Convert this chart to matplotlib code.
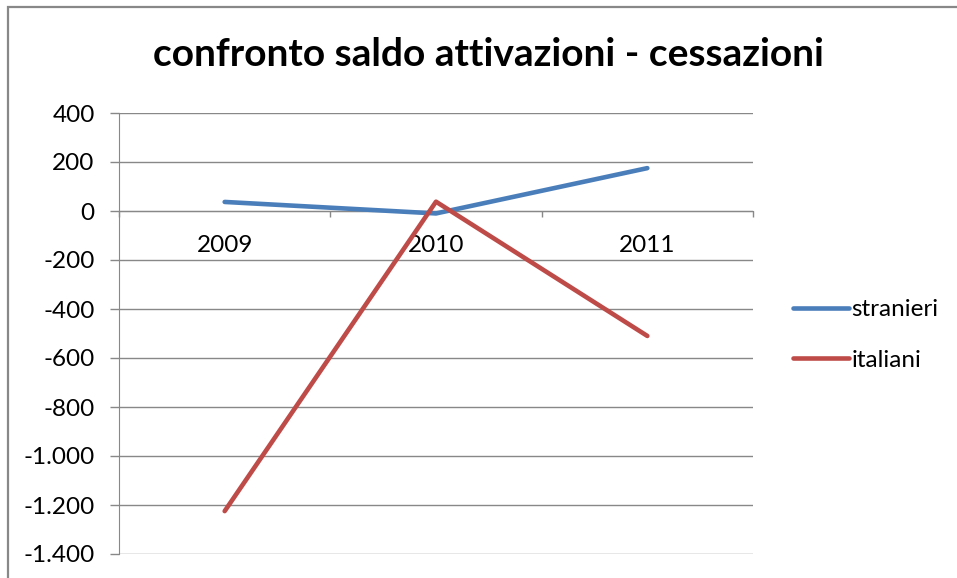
import matplotlib
matplotlib.use("Agg")
import matplotlib.pyplot as plt
from matplotlib.ticker import FuncFormatter, FixedLocator
from matplotlib.patches import Rectangle

years = ["2009", "2010", "2011"]
stranieri = [37, -10, 175]
italiani = [-1225, 38, -510]
yticks = [400, 200, 0, -200, -400, -600, -800, -1000, -1200, -1400]

plt.rcParams['font.family'] = ['Lato', 'DejaVu Sans']

W, H = 957, 578
fig = plt.figure(figsize=(W/100, H/100), dpi=100)
fig.patch.set_facecolor('white')

# outer chart frame
fig.patches.append(Rectangle((8/W, -0.05), 1.1, 1 - 7/H + 0.05, transform=fig.transFigure,
                             fill=False, edgecolor='#888888', linewidth=1.6))

ax = fig.add_axes([119/W, 1 - 554/H, (753-119)/W, (554-113)/H])
x = [i + 0.5 for i in range(len(years))]
ax.plot(x, stranieri, color='#4a7ebb', lw=3.3, solid_capstyle='round', label='stranieri', zorder=3)
ax.plot(x, italiani, color='#be4b48', lw=3.3, solid_capstyle='round', label='italiani', zorder=3)

ax.set_xlim(0, len(years))
ax.set_ylim(-1400, 400)
ax.set_yticks(yticks)
ax.yaxis.set_major_formatter(FuncFormatter(lambda v, p: f"{int(v):,}".replace(",", ".")))
ax.grid(axis='y', color='#888888', lw=1.0)
ax.set_axisbelow(True)

for s in ['top', 'right']:
    ax.spines[s].set_visible(False)
ax.spines['left'].set_color('#888888')
ax.spines['bottom'].set_color('#888888')
ax.spines['bottom'].set_position(('data', 0))

ax.tick_params(axis='y', length=6.5, width=1, color='#888888', pad=11, labelsize=17.5, labelcolor='#000000')
ax.xaxis.set_major_locator(FixedLocator(x))
ax.set_xticklabels(years)
ax.xaxis.set_minor_locator(FixedLocator(list(range(len(years) + 1))))
ax.tick_params(axis='x', which='major', length=0, pad=17, labelsize=17.5)
ax.tick_params(axis='x', which='minor', length=4, width=1, color='#888888', direction='out')

fig.text(488/W, 1 - 55/H, "confronto saldo attivazioni - cessazioni", ha='center', va='center',
         fontsize=28, fontweight='bold')

leg = ax.legend(loc='center left', bbox_to_anchor=(771/W, 1 - 335/H), bbox_transform=fig.transFigure,
                frameon=False, fontsize=17.5, handlelength=2.3, handletextpad=0.1, labelspacing=1.2)

fig.savefig('out.png', dpi=100, facecolor='white')
